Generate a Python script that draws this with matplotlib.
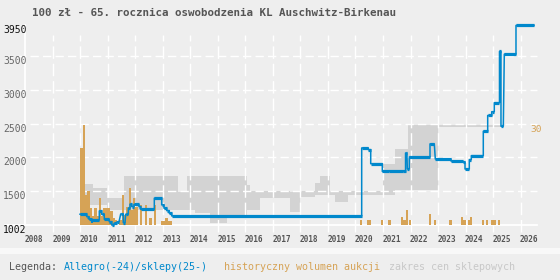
import matplotlib
matplotlib.use("Agg")
import matplotlib.pyplot as plt
from matplotlib.transforms import blended_transform_factory as blend
from matplotlib.patches import Rectangle

plt.rcParams['font.family'] = ['DejaVu Sans Mono', 'DejaVu Sans']
plt.rcParams['lines.scale_dashes'] = False

TITLE = "100 zł - 65. rocznica oswobodzenia KL Auschwitz-Birkenau"
YEARS = list(range(2008, 2027))
Y_TICKS = [1002, 1500, 2000, 2500, 3000, 3500, 3950]
VOL_LABEL = 30

# Allegro price segments (start, end in decimal years, price zł)
allegro_start = [2009.982, 2010.225, 2010.309, 2010.407, 2010.429, 2010.684, 2010.771, 2010.865,
                 2011.047, 2011.135, 2011.218, 2011.33, 2011.462, 2011.556, 2011.644, 2011.738,
                 2011.80, 2011.862, 2011.945, 2012.127, 2012.189, 2012.684, 2012.953, 2013.036,
                 2013.135, 2013.229, 2013.316,
                 2020.225, 2020.465, 2020.553, 2020.975, 2021.218, 2021.738, 2021.82, 2021.884,
                 2021.956, 2022.709, 2022.902, 2023.473, 2023.898, 2023.982, 2024.138, 2024.211,
                 2024.647, 2024.807, 2024.953, 2025.047, 2025.236, 2025.29, 2025.411, 2025.836]
allegro_end = [2010.225, 2010.309, 2010.407, 2010.429, 2010.684, 2010.771, 2010.865, 2011.047,
               2011.135, 2011.218, 2011.316, 2011.40, 2011.556, 2011.618, 2011.738, 2011.80,
               2011.862, 2011.945, 2012.127, 2012.189, 2012.684, 2012.953, 2013.036, 2013.135,
               2013.229, 2013.316, 2020.225,
               2020.465, 2020.553, 2020.975, 2021.218, 2021.738, 2021.82, 2021.87, 2021.956,
               2022.709, 2022.865, 2023.473, 2023.898, 2023.982, 2024.138, 2024.211, 2024.647,
               2024.807, 2024.953, 2025.047, 2025.236, 2025.29, 2025.375, 2025.836, 2026.49]
allegro_price = [1161, 1125, 1087, 1042, 1076, 1210, 1160, 1087,
                 1051, 1002, 1027, 1050, 1165, 1036, 1161, 1250,
                 1310, 1274, 1305, 1274, 1235, 1398, 1299, 1250,
                 1214, 1176, 1136,
                 2140, 2115, 1907, 1793, 1803, 1793, 2066, 1829,
                 2007, 2200, 1977, 1947, 1932, 1829, 1967, 2026,
                 2387, 2620, 2675, 2808, 3565, 2461, 3525, 3950]

# Shop price range (step, decimal years)
band_t = [2010.16, 2010.45, 2010.96, 2011.6, 2013.55, 2013.87, 2014.16, 2014.71, 2015.33,
          2016.05, 2016.16, 2016.53, 2017.62, 2017.98, 2018.53, 2018.71, 2019.07, 2019.25,
          2019.73, 2021.0, 2021.44, 2021.91, 2023.0, 2025.33]
band_high = [1610, 1551, 1398, 1729, 1496, 1729, 1729, 1729, 1729,
             1600, 1500, 1500, 1490, 1500, 1620, 1729, 1500, 1500,
             1500, 1910, 2120, 2486, 2486, 2486]
band_low = [1300, 1300, 1225, 1225, 1225, 1225, 1180, 1036, 1100,
            1225, 1225, 1400, 1199, 1420, 1440, 1447, 1447, 1343,
            1447, 1447, 1521, 1521, 2456, 2456]

# Historical auction volume (monthly, from Jan 2010)
vol_early = [23.2, 30, 9, 10.2, 5, 2.7, 5, 2.7, 8, 2.7, 5, 5, 5, 4.2, 2.2, 1.5,
             0, 1.5, 9, 3, 5.5, 11, 4.5, 8, 5.5, 0, 6, 0, 6, 0, 2.2, 0, 6,
             0, 0, 1.2, 1.2, 2.2, 1.2, 1.2]
vol_late_t = [2020.164, 2020.407, 2020.49, 2020.916, 2021.193, 2021.655, 2021.738, 2021.836,
              2021.935, 2022.673, 2022.855, 2023.411, 2023.836, 2023.92, 2024.08, 2024.164,
              2024.589, 2024.735, 2024.927, 2025.011, 2025.171]
vol_late = [1.5, 1.5, 1.5, 1.5, 1.5, 2.5, 1.5, 4.5,
            1.5, 3.3, 1.5, 1.5, 2.5, 1.5, 1.5, 2.5,
            1.5, 1.5, 1.5, 1.5, 1.5]

BG = '#eeeeee'
BLUE = '#0088cc'
ORANGE = '#d6a356'
BAND = '#d3d3d3'

W, H = 560, 280
fig = plt.figure(figsize=(5.6, 2.8), dpi=100, facecolor=BG)
fig.patches.append(Rectangle((0, 1 - 254 / H), 1, 6 / H, transform=fig.transFigure,
                             facecolor='#f8f8f8', edgecolor='none', zorder=0))

x0, x1 = 25.5, 537.0
ytop, ybot = 25.4, 225.0
pos = [x0 / W, 1 - ybot / H, (x1 - x0) / W, (ybot - ytop) / H]
xmin, xmax = 2008.0, 2008.0 + (x1 - x0) / 27.5
ymin, ymax = 1002, 3950

ax = fig.add_axes(pos)
ax.set_facecolor(BG)
ax.set_xlim(xmin, xmax)
ax.set_ylim(ymin, ymax)
ax.axis('off')

# shop range band
bt = band_t
ax.fill_between(bt, band_low, band_high, step='post', color=BAND, lw=0, zorder=1)

# grid
gx0 = 2008.0 + (5 - x0) / 27.5
per_px = (ymax - ymin) / (ybot - ytop)
for v in Y_TICKS[1:-1]:
    ax.plot([gx0, xmax], [v, v], color='white', lw=1.0, dashes=(6, 3), clip_on=False, zorder=2)
vy0 = ymin - (232 - ybot) * per_px
vy1 = ymin + (ybot - 35) * per_px
for yr in YEARS[1:]:
    ax.plot([yr, yr], [vy0, vy1], color='white', lw=1.0, dashes=(9, 3.5), clip_on=False, zorder=2)
ax.plot([gx0, xmax], [ymin, ymin], color='white', lw=1.3, clip_on=False, zorder=2)
ax.plot([xmin, xmin], [ymin, ymax], color='white', lw=1.3, clip_on=False, zorder=2)

# volume bars
axv = ax.twinx()
axv.set_position(pos)
axv.set_xlim(xmin, xmax)
axv.set_ylim(0, 30 * (ybot - ytop) / (ybot - 125.0))
axv.axis('off')
early_t = [2010 + i / 12 for i in range(len(vol_early))]
axv.bar(early_t, vol_early, width=1 / 12, align='edge', color=ORANGE, lw=0)
axv.bar(vol_late_t, vol_late, width=1 / 12, align='edge', color=ORANGE, lw=0)

# allegro line
axp = ax.twinx()
axp.set_position(pos)
axp.set_xlim(xmin, xmax)
axp.set_ylim(ymin, ymax)
axp.axis('off')
xs, ys = [], []
for s, e, p in zip(allegro_start, allegro_end, allegro_price):
    xs += [s, e]
    ys += [p, p]
axp.plot(xs, ys, color=BLUE, lw=1.1, clip_on=False)
axp.hlines(allegro_price, allegro_start, allegro_end, color=BLUE, lw=2.3, clip_on=False)

# labels
ty = blend(fig.transFigure, ax.transData)
for v in Y_TICKS:
    col = '#111111' if v in (1002, 3950) else '#666666'
    ax.text(26.5 / W, v, str(v), transform=ty, ha='right', va='top', fontsize=7, color=col)
tx = blend(ax.transData, fig.transFigure)
for yr in YEARS:
    ax.text(yr - 0.02, 1 - 239 / H, str(yr), transform=tx, ha='left', va='center',
            fontsize=5.6, fontweight='bold', color='#555555')
axv.text(530 / W, VOL_LABEL, str(VOL_LABEL), transform=blend(fig.transFigure, axv.transData),
         ha='left', va='top', fontsize=6.8, color=ORANGE)

fig.text(32 / W, 1 - 12.5 / H, TITLE, ha='left', va='center', fontsize=7.8,
         fontweight='bold', color='#555555')

ly = 1 - 267 / H
fig.text(9.3 / W, ly, "Legenda:", ha='left', va='center', fontsize=7.2, color='#555555')
fig.text(64 / W, ly, "Allegro(-24)/sklepy(25-)", ha='left', va='center', fontsize=7.2, color=BLUE)
fig.text(224 / W, ly, "historyczny wolumen aukcji", ha='left', va='center', fontsize=7.2, color=ORANGE)
fig.text(389.3 / W, ly, "zakres cen sklepowych", ha='left', va='center', fontsize=7.2, color='#c8c8c8')

fig.savefig('out.png', dpi=100, facecolor=BG)
